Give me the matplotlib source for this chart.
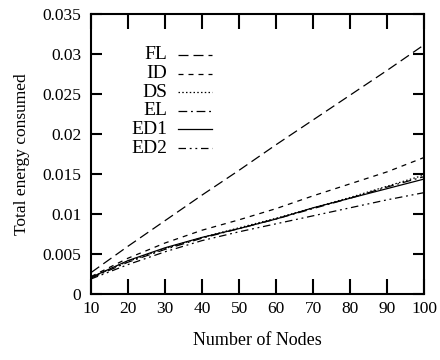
import matplotlib
matplotlib.use("Agg")
import matplotlib.pyplot as plt
from matplotlib.lines import Line2D

# ===================== data =====================
nodes = [10, 20, 30, 40, 50, 60, 70, 80, 90, 100]
fl  = [0.0027, 0.0060, 0.0092, 0.0124, 0.0155, 0.0187, 0.0218, 0.0249, 0.0280, 0.0312]
id_ = [0.0022, 0.0045, 0.0064, 0.0080, 0.0093, 0.0107, 0.0123, 0.0138, 0.0153, 0.0171]
ds  = [0.0021, 0.0041, 0.0057, 0.0071, 0.0083, 0.0095, 0.0108, 0.0121, 0.0135, 0.0149]
el  = [0.0020, 0.0040, 0.0056, 0.0070, 0.0082, 0.0094, 0.0107, 0.0120, 0.0134, 0.0147]
ed1 = [0.0021, 0.0042, 0.0058, 0.0071, 0.0082, 0.0094, 0.0108, 0.0120, 0.0132, 0.0144]
ed2 = [0.0019, 0.0037, 0.0053, 0.0067, 0.0078, 0.0088, 0.0098, 0.0108, 0.0118, 0.0127]

labels = ["FL", "ID", "DS", "EL", "ED1", "ED2"]
series = [fl, id_, ds, el, ed1, ed2]
dashes = [(8, 4), (4, 4), (1.2, 1.8), (7, 3, 1.5, 3), None, (6, 3, 1.5, 3, 1.5, 3)]

xticks = [10, 20, 30, 40, 50, 60, 70, 80, 90, 100]
yticks = [0, 0.005, 0.01, 0.015, 0.02, 0.025, 0.03, 0.035]
ytick_labels = ["0", "0.005", "0.01", "0.015", "0.02", "0.025", "0.03", "0.035"]

# ===================== plot =====================
plt.rcParams["font.family"] = ["Liberation Serif", "DejaVu Serif"]
plt.rcParams["font.size"] = 12.5

fig = plt.figure(figsize=(4.4, 3.6), dpi=100)
ax = fig.add_axes([0.207, 0.183, 0.757, 0.777])

for lab, ys, d in zip(labels, series, dashes):
    line, = ax.plot(nodes, ys, color="black", lw=0.9, label=lab)
    if d is not None:
        line.set_dashes(d)

ax.set_xlim(10, 100)
ax.set_ylim(0, 0.035)
ax.set_xticks(xticks)
ax.set_yticks(yticks)
ax.set_yticklabels(ytick_labels)
ax.tick_params(direction="in", top=True, right=True, width=1.5)
ax.tick_params(axis="x", length=11, pad=5)
ax.tick_params(axis="y", length=8, pad=7)
for s in ax.spines.values():
    s.set_linewidth(1.5)

ax.set_xlabel("Number of Nodes", fontsize=13, labelpad=11)
ax.set_ylabel("Total energy consumed", labelpad=9)

# 图例：gnuplot 风格，文字右对齐，线样在右边
for i, (lab, d) in enumerate(zip(labels, dashes)):
    yy = 0.855 - i * 0.0666
    ax.text(0.228, yy, lab, transform=ax.transAxes, ha="right", va="center",
            fontsize=14)
    sample = Line2D([0.261, 0.363], [yy, yy], transform=ax.transAxes,
                    color="black", lw=0.9)
    if d is not None:
        sample.set_dashes(d)
    ax.add_line(sample)

plt.savefig("out.png", dpi=100)
